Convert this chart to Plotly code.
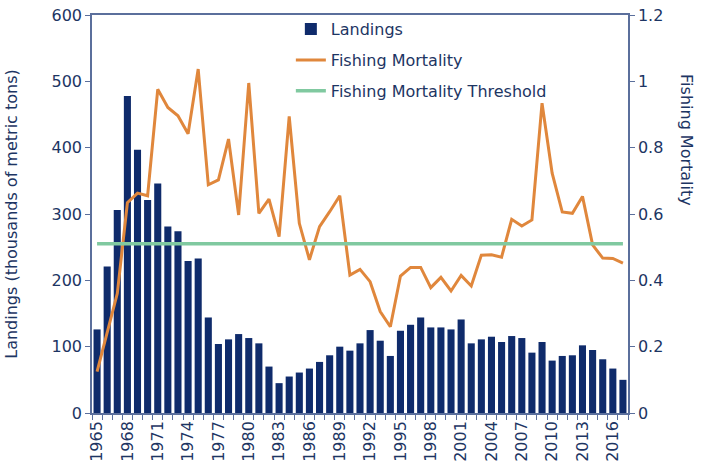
import plotly.graph_objects as go

years = list(range(1965, 2018))
landings = [126, 221, 306, 478, 397, 321, 346, 281, 274, 229, 233, 144, 104, 111, 119, 113, 105, 70, 45,
            55, 61, 67, 77, 87, 100, 94, 105, 125, 109, 86, 124, 133, 144, 129, 129, 126, 141,
            105, 111, 115, 107, 116, 113, 91, 107, 79, 86, 87, 102, 95, 81, 67, 50]
mortality = [0.125, 0.24, 0.36, 0.634, 0.663, 0.655, 0.976, 0.921, 0.896, 0.842, 1.037, 0.688, 0.703, 0.826,
             0.597, 0.995, 0.602, 0.645, 0.532, 0.894, 0.572, 0.462, 0.562, 0.607, 0.655, 0.416, 0.433,
             0.396, 0.306, 0.260, 0.413, 0.439, 0.439, 0.378, 0.409, 0.368, 0.415, 0.383, 0.476, 0.477,
             0.470, 0.584, 0.564, 0.582, 0.934, 0.723, 0.606, 0.602, 0.653, 0.507, 0.467, 0.466, 0.452]
threshold_value = 0.51
threshold = [threshold_value] * len(years)
tick_years = list(range(1965, 2018, 3))

navy = "#0f2b6b"
text_color = "#1d3563"
axis_color = "#5b6f9c"
font_family = "DejaVu Sans, Verdana, sans-serif"
fs = 16

fig = go.Figure()
fig.add_trace(go.Bar(x=years, y=landings, name="Landings", marker=dict(color=navy, line=dict(width=0)),
                     legendgroup="a", yaxis="y"))
fig.add_trace(go.Scatter(x=years, y=mortality, name="Fishing Mortality", mode="lines",
                         line=dict(color="#e0873c", width=3), legendgroup="b", yaxis="y2"))
fig.add_trace(go.Scatter(x=years, y=threshold, name="Fishing Mortality Threshold", mode="lines",
                         line=dict(color="#80c9a0", width=3.5), legendgroup="c", yaxis="y2"))

fig.update_layout(
    width=702, height=469,
    margin=dict(l=92, r=74, t=15, b=56, autoexpand=False),
    paper_bgcolor="white", plot_bgcolor="white",
    font=dict(family=font_family, color=text_color, size=fs),
    bargap=0.3,
    showlegend=True,
    legend=dict(x=0.371, y=1.007, xanchor="left", yanchor="top", bgcolor="rgba(0,0,0,0)",
                font=dict(size=fs, color=text_color), traceorder="grouped", tracegroupgap=7,
                itemwidth=30),
    xaxis=dict(range=[1964.5, 2017.5], tickvals=tick_years, ticktext=[str(y) for y in tick_years],
               tickangle=-90, ticks="outside", ticklen=0, showgrid=False, zeroline=False,
               showline=True, linecolor=axis_color, linewidth=1.5, mirror=True, automargin=False,
               tickfont=dict(size=fs, color=text_color),
               minor=dict(tick0=1964.5, dtick=1, ticks="outside", ticklen=5, tickcolor=axis_color,
                          showgrid=False)),
    yaxis=dict(range=[0, 600], dtick=100, ticks="outside", ticklen=5, tickcolor=axis_color,
               showgrid=False, zeroline=False, showline=True, linecolor=axis_color, linewidth=1.5,
               tickfont=dict(size=fs, color=text_color), automargin=False,
               title=dict(text="Landings (thousands of metric tons)", font=dict(size=fs, color=text_color),
                          standoff=30)),
    yaxis2=dict(range=[0, 1.2], dtick=0.2, overlaying="y", side="right", ticks="outside", ticklen=5,
                tickcolor=axis_color, showgrid=False, zeroline=False, showline=True, automargin=False,
                linecolor=axis_color, linewidth=1.5, tickfont=dict(size=fs, color=text_color),
                tickformat="~g"),
    annotations=[dict(text="Fishing Mortality", textangle=90, xref="paper", yref="paper",
                      x=1.108, y=0.686, showarrow=False, xanchor="center", yanchor="middle",
                      font=dict(size=fs, color=text_color))],
)

fig.write_html("out.html", config={"displayModeBar": False},
               post_script="document.body.style.margin='0';document.body.style.padding='0';")
